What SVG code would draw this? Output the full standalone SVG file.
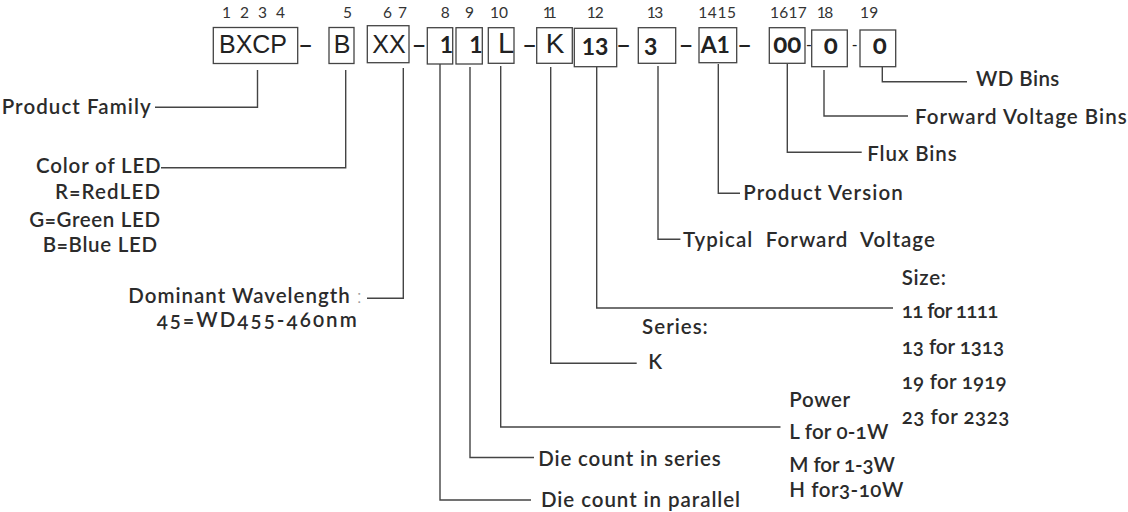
<svg xmlns="http://www.w3.org/2000/svg" width="1128" height="512" viewBox="0 0 1128 512">
<style>
.bg{fill:#ffffff}
.box{fill:#ffffff;stroke:#444;stroke-width:1.3}
.conn{fill:none;stroke:#444;stroke-width:1.4}
.num{font-family:Lato,"Open Sans",sans-serif;font-weight:400;font-size:15.5px;fill:#333}
.ca{font-family:"Liberation Sans",Arial,sans-serif;font-size:25px;fill:#222;text-anchor:middle}
.cr{font-family:Lato,"Open Sans",sans-serif;font-weight:700;font-size:23px;fill:#222;text-anchor:middle}
.co{font-feature-settings:"onum";font-size:26px}
.dash{font-family:"Liberation Sans",Arial,sans-serif;font-weight:700;font-size:21px;fill:#222;text-anchor:middle}
.lbl{font-family:Lato,"Open Sans",sans-serif;font-weight:600;font-size:20.5px;fill:#2b2b2b;font-feature-settings:"onum";white-space:pre}
</style>
<rect class="bg" x="0" y="0" width="1128" height="512"/>

<g id="connectors">
<path class="conn" d="M257.5,70 V107.3 H155"/>
<path class="conn" d="M345.7,70 V167.7 H161"/>
<path class="conn" d="M403.3,68 V298.3 H367"/>
<path class="conn" d="M440,58 V500 H531"/>
<path class="conn" d="M470,67 V457.5 H534"/>
<path class="conn" d="M500.7,66 V427 H780.5"/>
<path class="conn" d="M550.7,67 V363.3 H636.7"/>
<path class="conn" d="M596.7,67 V308 H893"/>
<path class="conn" d="M658,66 V239.3 H680.4"/>
<path class="conn" d="M718.3,64 V193.3 H740"/>
<path class="conn" d="M787.3,64 V152.3 H861.7"/>
<path class="conn" d="M824,70 V116 H908"/>
<path class="conn" d="M882.3,67 V81.7 H967"/>
</g>

<g id="dashes">
<text class="dash" x="305.5" y="51">–</text>
<text class="dash" x="419" y="51">–</text>
<text class="dash" x="529.5" y="51">–</text>
<text class="dash" x="623.5" y="51">–</text>
<text class="dash" x="686" y="51">–</text>
<text class="dash" x="744.5" y="51">–</text>
<text class="dash" x="809" y="50" style="font-size:16px;font-weight:400">-</text>
<text class="dash" x="854.7" y="50" style="font-size:16px;font-weight:400">-</text>
</g>

<g id="seg-family">
<text class="num" x="222" y="18.3" textLength="63">1 2 3 4</text>
<rect class="box" x="213.3" y="27.5" width="84.4" height="36"/>
<text class="ca" x="253" y="53.3">BXCP</text>
</g>
<g id="seg-color">
<text class="num" x="343" y="18.3">5</text>
<rect class="box" x="329" y="27.5" width="25" height="36"/>
<text class="ca" x="342" y="53.3">B</text>
</g>
<g id="seg-wavelength">
<text class="num" x="383" y="18.3" textLength="24">6 7</text>
<rect class="box" x="367.3" y="25.7" width="41.7" height="37"/>
<text class="ca" x="389" y="53">XX</text>
</g>
<g id="seg-parallel">
<text class="num" x="440.7" y="18.3">8</text>
<rect class="box" x="427.3" y="27.7" width="25.4" height="36.3"/>
<text class="cr" x="446.5" y="53.3">1</text>
</g>
<g id="seg-series">
<text class="num" x="465" y="18.3">9</text>
<rect class="box" x="456" y="27.7" width="26.3" height="36.3"/>
<text class="cr" x="476" y="53.3">1</text>
</g>
<g id="seg-power">
<text class="num" x="490" y="18.3" textLength="18">10</text>
<rect class="box" x="488.3" y="27.7" width="25.7" height="35.6"/>
<text class="ca" x="506" y="53.3" style="font-size:29px">L</text>
</g>
<g id="seg-seriesK">
<text class="num" x="542.7" y="18.3" textLength="14">11</text>
<rect class="box" x="536.7" y="27.7" width="35.6" height="35.6"/>
<text class="ca" x="555" y="53.3" style="font-size:28px">K</text>
</g>
<g id="seg-size">
<text class="num" x="586.7" y="18.3" textLength="17">12</text>
<rect class="box" x="574.3" y="28.3" width="42.4" height="38.4"/>
<text class="cr" x="595" y="55">13</text>
</g>
<g id="seg-voltage">
<text class="num" x="646.7" y="18.3" textLength="16.6">13</text>
<rect class="box" x="638.3" y="27.7" width="37.4" height="35.6"/>
<text class="cr" x="650.7" y="55">3</text>
</g>
<g id="seg-version">
<text class="num" x="698.3" y="18.3" textLength="37.7">1415</text>
<rect class="box" x="699" y="27.7" width="37.7" height="35"/>
<text class="cr" x="715.3" y="53.3">A1</text>
</g>
<g id="seg-flux">
<text class="num" x="770" y="18.3" textLength="36.7">1617</text>
<rect class="box" x="769.3" y="27.7" width="35.7" height="35.6"/>
<text class="cr co" x="787.2" y="53.3">00</text>
</g>
<g id="seg-fv">
<text class="num" x="816.7" y="18.3" textLength="16.6">18</text>
<rect class="box" x="811.7" y="30" width="35.6" height="36.7"/>
<text class="cr co" x="830.8" y="54">0</text>
</g>
<g id="seg-wd">
<text class="num" x="860" y="18.3" textLength="18.3">19</text>
<rect class="box" x="860" y="30" width="35.7" height="36.7"/>
<text class="cr co" x="879.7" y="54">0</text>
</g>

<g id="label-family"><text class="lbl" x="1.7" y="114.3" textLength="149">Product Family</text></g>
<g id="label-color">
<text class="lbl" x="36" y="173.3" textLength="124.7">Color of LED</text>
<text class="lbl" x="55" y="199.3" textLength="105">R=RedLED</text>
<text class="lbl" x="29.3" y="226.7" textLength="130.7">G=Green LED</text>
<text class="lbl" x="42.7" y="252.3" textLength="114.3">B=Blue LED</text>
</g>
<g id="label-wavelength">
<text class="lbl" x="128.3" y="303.3" textLength="233.4">Dominant Wavelength <tspan style="fill:#9a9a9a;font-weight:300">:</tspan></text>
<text class="lbl" x="156.7" y="327" textLength="200">45=WD455-460nm</text>
</g>
<g id="label-wd"><text class="lbl" x="976" y="86" textLength="83.3">WD Bins</text></g>
<g id="label-fv"><text class="lbl" x="915" y="124" textLength="211.7">Forward Voltage Bins</text></g>
<g id="label-flux"><text class="lbl" x="867.3" y="161" textLength="89.4">Flux Bins</text></g>
<g id="label-version"><text class="lbl" x="743.3" y="200" textLength="159.4">Product Version</text></g>
<g id="label-voltage"><text class="lbl" x="682.9" y="246.7" textLength="252">Typical  Forward  Voltage</text></g>
<g id="label-size">
<text class="lbl" x="901.7" y="285" textLength="44.3">Size:</text>
<text class="lbl" x="901.7" y="318.3" textLength="96.6">11 for 1111</text>
<text class="lbl" x="901.7" y="354" textLength="102.3">13 for 1313</text>
<text class="lbl" x="901.7" y="389.3" textLength="105">19 for 1919</text>
<text class="lbl" x="901.7" y="424.3" textLength="107.6">23 for 2323</text>
</g>
<g id="label-seriesK">
<text class="lbl" x="642.1" y="334.3" textLength="65.7">Series:</text>
<text class="lbl" x="648.3" y="369">K</text>
</g>
<g id="label-power">
<text class="lbl" x="789.3" y="407.3" textLength="60.7">Power</text>
<text class="lbl" x="789.3" y="439.3" textLength="99">L for 0-1W</text>
<text class="lbl" x="789.3" y="471.7" textLength="105.7">M for 1-3W</text>
<text class="lbl" x="789.3" y="497" textLength="114">H for3-10W</text>
</g>
<g id="label-series"><text class="lbl" x="538.3" y="466" textLength="182.4">Die count in series</text></g>
<g id="label-parallel"><text class="lbl" x="541" y="506.7" textLength="199">Die count in parallel</text></g>
</svg>
